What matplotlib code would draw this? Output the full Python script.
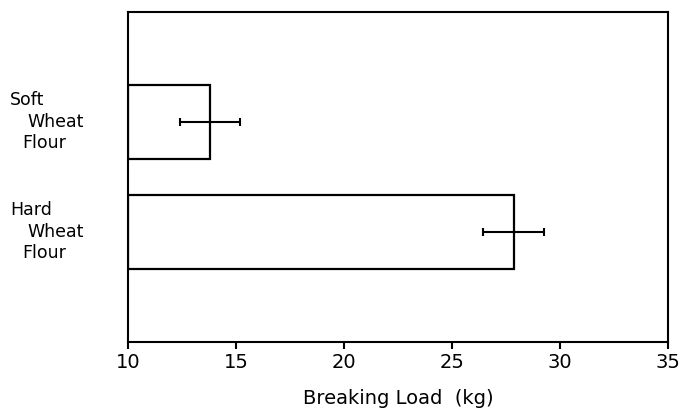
import matplotlib
matplotlib.use("Agg")
import matplotlib.pyplot as plt
from matplotlib.transforms import blended_transform_factory

categories = ["Soft\nWheat\nFlour", "Hard\nWheat\nFlour"]
values = [13.8, 27.85]
errors = [1.4, 1.4]
xticks = [10, 15, 20, 25, 30, 35]
xlabel = "Breaking Load  (kg)"

plt.rcParams['font.family'] = ['DejaVu Sans']
fig = plt.figure(figsize=(6.85, 4.12), dpi=100)
ax = fig.add_axes([128/685, 1 - 342/412, 540/685, 330/412])

pos = [1, 2]
base = 10
ax.barh(pos, [v - base for v in values], left=base, height=0.67,
        facecolor='white', edgecolor='black', linewidth=1.6)
ax.errorbar(values, pos, xerr=errors, fmt='none', ecolor='black',
            elinewidth=1.5, capsize=3, capthick=1.5)

ax.set_xlim(10, 35)
ax.set_ylim(3, 0)
ax.set_xticks(xticks)
ax.set_xticklabels([str(t) for t in xticks], fontsize=14)
ax.tick_params(axis='x', direction='out', length=5, width=1.5, pad=3)
ax.set_yticks([])
for s in ax.spines.values():
    s.set_linewidth(1.5)
ax.set_xlabel(xlabel, fontsize=14, labelpad=12)

trans = blended_transform_factory(ax.transAxes, ax.transData)
indents = [10, 27, 22]
offsets = [-0.2, 0.0, 0.19]
for p, lab in zip(pos, categories):
    for i, line in enumerate(lab.split("\n")):
        ax.text((indents[i] - 128) / 540, p + offsets[i], line, transform=trans,
                ha='left', va='center', fontsize=12.5)

fig.savefig("out.png", dpi=100)
